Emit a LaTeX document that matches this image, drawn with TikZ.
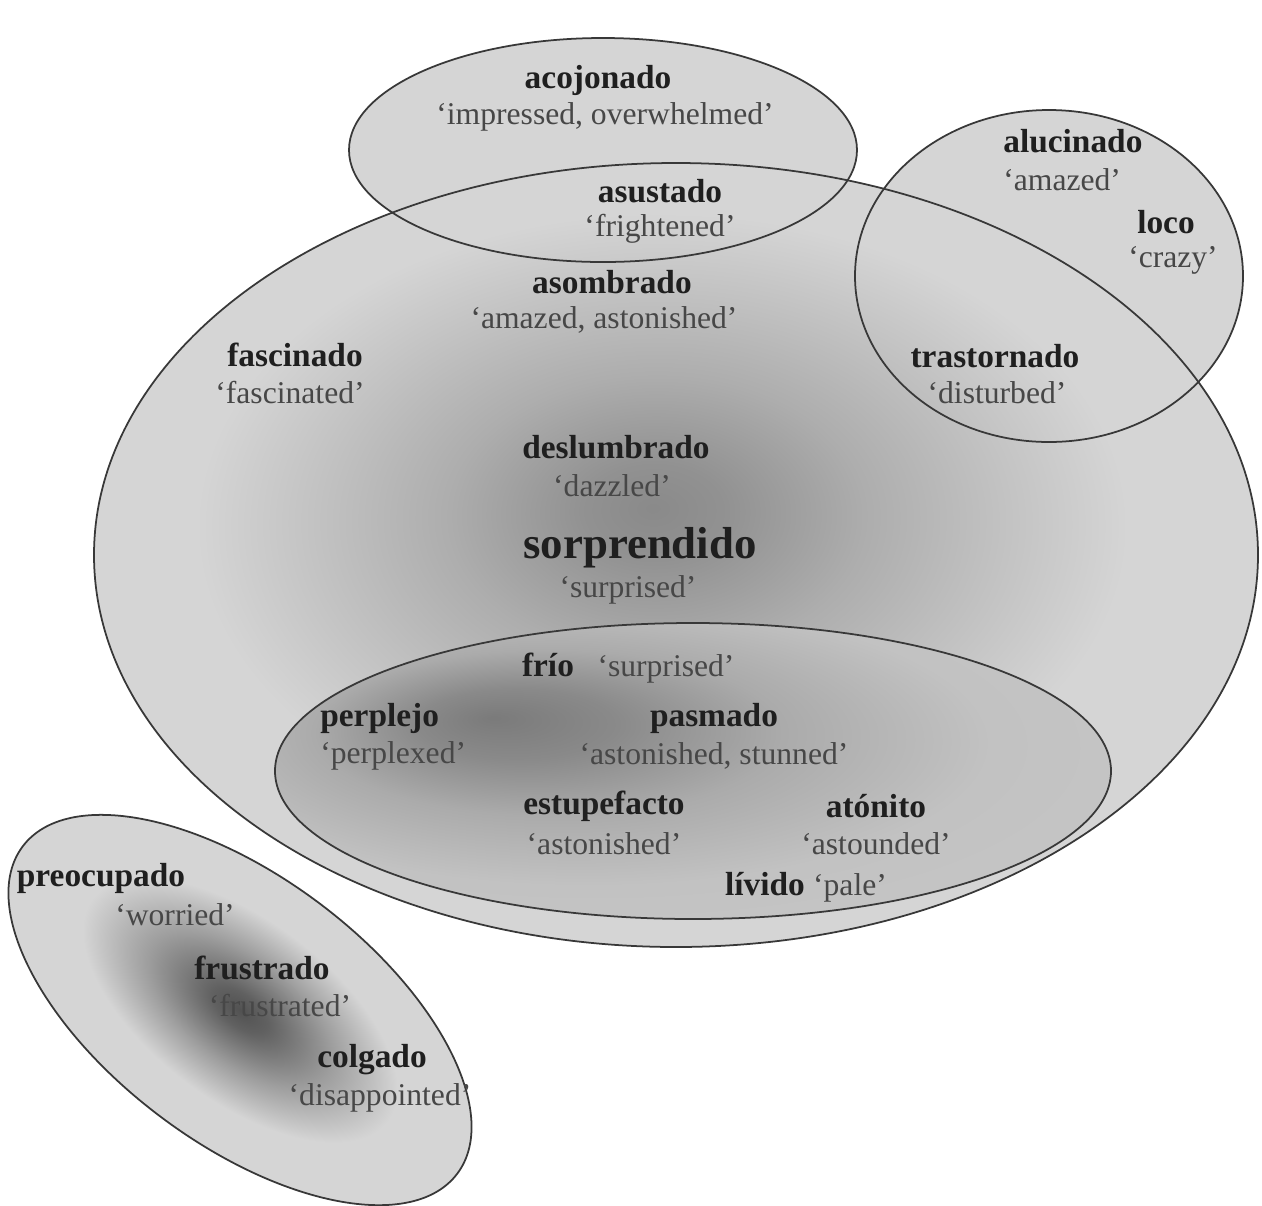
\documentclass[tikz,border=0pt]{standalone}
\usepackage{fontspec}
\setmainfont{Liberation Serif}
\usepackage{tikz}
\definecolor{setgray}{gray}{0.835}
\pgfdeclareradialshading{bigshade}{\pgfpoint{-1bp}{3bp}}{%
  color(0bp)=(black!46); color(3bp)=(black!43); color(9bp)=(black!32);
  color(20bp)=(setgray); color(50bp)=(setgray)}
\pgfdeclareradialshading{innershade}{\pgfpoint{-12bp}{9bp}}{%
  color(0bp)=(black!52); color(6bp)=(black!46); color(14bp)=(black!33);
  color(24bp)=(black!24); color(50bp)=(black!20)}
\pgfdeclareradialshading{blobshade}{\pgfpoint{0bp}{0bp}}{%
  color(0bp)=(black!68); color(3bp)=(black!62); color(10bp)=(black!38);
  color(17bp)=(setgray); color(50bp)=(setgray)}

\begin{document}
\begin{tikzpicture}[
  x=0.02cm, y=-0.02cm,
  word/.style={font=\bfseries\fontsize{19}{22}\selectfont, text=black!88, inner sep=0pt},
  bigword/.style={font=\bfseries\fontsize{25.5}{30}\selectfont, text=black!88, inner sep=0pt},
  gloss/.style={font=\fontsize{18}{21}\selectfont, text=black!72, inner sep=0pt},
  rim/.style={draw=black!78, line width=1pt}
]
\useasboundingbox[fill=white] (0,0) rectangle (1262,1205);

% flat sets
\fill[setgray] (603,150) ellipse (254 and 112);
\fill[setgray] (1049,276) ellipse (194 and 166);
% shaded sets
\shade[shading=bigshade] (676,555) ellipse (582 and 392);
\shade[shading=innershade] (693,771) ellipse (418 and 148);
\begin{scope}[transform canvas={rotate around={-37:(240,1010)}}]
  \shade[shading=blobshade] (240,1010) ellipse (272 and 133);
\end{scope}

% outlines
\draw[rim] (603,150) ellipse (254 and 112);
\draw[rim] (1049,276) ellipse (194 and 166);
\draw[rim] (676,555) ellipse (582 and 392);
\draw[rim] (693,771) ellipse (418 and 148);
\draw[rim, rotate around={-37:(240,1010)}] (240,1010) ellipse (272 and 133);

% labels
\node[word]  (acoj)   at (598,80)   {acojonado};
\node[gloss] (acojG)  at (605,117)  {‘impressed, overwhelmed’};
\node[word]  (asus)   at (660,191)  {asustado};
\node[gloss] (asusG)  at (660,229)  {‘frightened’};
\node[word]  (asom)   at (612,282)  {asombrado};
\node[gloss] (asomG)  at (604,320)  {‘amazed, astonished’};
\node[word]  (fasc)   at (295,355)  {fascinado};
\node[gloss] (fascG)  at (290,393)  {‘fascinated’};
\node[word, anchor=west]  (aluc)  at (1003,141) {alucinado};
\node[gloss, anchor=west] (alucG) at (1003,180) {‘amazed’};
\node[word]  (loco)   at (1166,222) {loco};
\node[gloss] (locoG)  at (1173,260) {‘crazy’};
\node[word]  (tras)   at (995,356)  {trastornado};
\node[gloss] (trasG)  at (997,393)  {‘disturbed’};
\node[word]  (desl)   at (616,447)  {deslumbrado};
\node[gloss] (deslG)  at (612,486)  {‘dazzled’};
\node[bigword] (sorp) at (640,548)  {sorprendido};
\node[gloss] (sorpG)  at (628,590)  {‘surprised’};
\node[word, anchor=base]  (frio)  at (548,676) {frío};
\node[gloss, anchor=base] (frioG) at (666,676) {‘surprised’};
\node[word, anchor=west]  (perp)  at (320,718) {perplejo};
\node[gloss, anchor=west] (perpG) at (320,756) {‘perplexed’};
\node[word]  (pasm)   at (714,718)  {pasmado};
\node[gloss] (pasmG)  at (714,756)  {‘astonished, stunned’};
\node[word]  (estu)   at (604,806)  {estupefacto};
\node[gloss] (estuG)  at (604,844)  {‘astonished’};
\node[word]  (aton)   at (876,806)  {atónito};
\node[gloss] (atonG)  at (876,844)  {‘astounded’};
\node[word, anchor=base]  (livi)  at (765,895) {lívido};
\node[gloss, anchor=base] (liviG) at (850,895) {‘pale’};
\node[word]  (preo)   at (101,878)  {preocupado};
\node[gloss] (preoG)  at (175,915)  {‘worried’};
\node[word]  (frus)   at (262,968)  {frustrado};
\node[gloss] (frusG)  at (280,1006) {‘frustrated’};
\node[word]  (colg)   at (372,1060) {colgado};
\node[gloss] (colgG)  at (380,1098) {‘disappointed’};
\end{tikzpicture}
\end{document}
